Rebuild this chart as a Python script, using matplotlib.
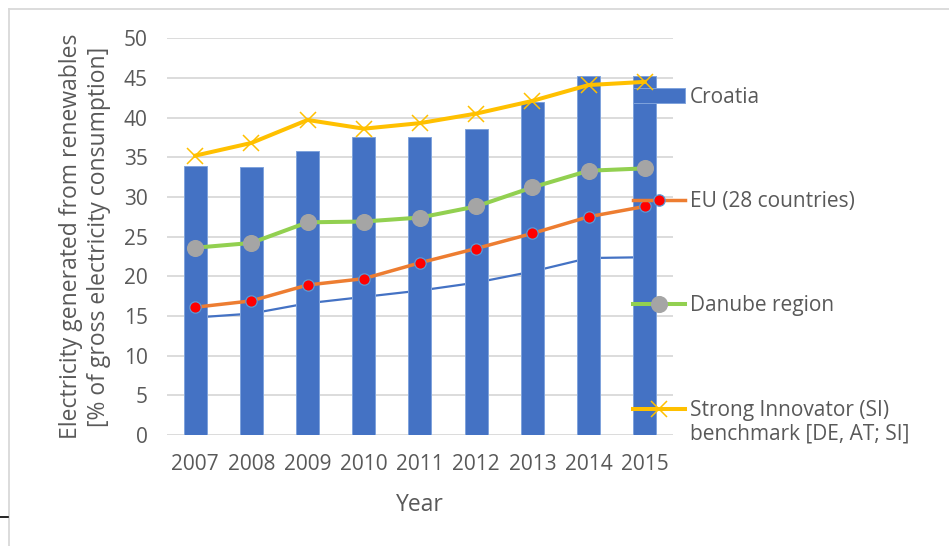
import matplotlib
matplotlib.use("Agg")
import matplotlib.pyplot as plt
import numpy as np
from matplotlib.legend_handler import HandlerLine2D
from matplotlib.lines import Line2D

years = ["2007", "2008", "2009", "2010", "2011", "2012", "2013", "2014", "2015"]
croatia = [33.9, 33.8, 35.8, 37.5, 37.5, 38.6, 42.0, 45.2, 45.3]
croatia_line = [14.8, 15.3, 16.6, 17.4, 18.2, 19.2, 20.6, 22.3, 22.4]
eu28 = [16.1, 16.9, 18.9, 19.7, 21.7, 23.5, 25.4, 27.5, 28.8]
danube = [23.6, 24.2, 26.8, 26.9, 27.4, 28.8, 31.2, 33.3, 33.6]
strong_innovator = [35.2, 36.8, 39.7, 38.6, 39.3, 40.5, 42.1, 44.1, 44.5]

yticks = [0, 5, 10, 15, 20, 25, 30, 35, 40, 45, 50]

TEXT = "#595959"
GRID = "#d9d9d9"
BLUE = "#4472C4"
ORANGE = "#ED7D31"
GREEN = "#92D050"
GOLD = "#FFC000"
GREY = "#A5A5A5"
FS = 15
FS_LABEL = 16.5

plt.rcParams["font.family"] = ["Open Sans", "DejaVu Sans"]
plt.rcParams["text.color"] = TEXT


class FirstLineHandler(HandlerLine2D):
    """Line handle aligned with the first line of a two-line label."""

    def create_artists(self, legend, orig_handle, xdescent, ydescent,
                       width, height, fontsize, trans):
        artists = super().create_artists(legend, orig_handle, xdescent,
                                         ydescent, width, height, fontsize,
                                         trans)
        for a in artists:
            a.set_ydata(np.asarray(a.get_ydata()) + 0.68 * fontsize)
        return artists


fig = plt.figure(figsize=(9.49, 5.46), dpi=100)
ax = fig.add_axes([0.176, 0.2033, 0.533, 0.7267])

# chart-area frame (left and top edges) and a small mark at the left margin
W, H = 949.0, 546.0
fig.add_artist(Line2D([8.5 / W, 8.5 / W], [0, 1 - 9 / H], color=GRID, lw=1.3,
                      transform=fig.transFigure))
fig.add_artist(Line2D([8.5 / W, 1], [1 - 9 / H, 1 - 9 / H], color=GRID, lw=1.3,
                      transform=fig.transFigure))
fig.add_artist(Line2D([0, 7.5 / W], [1 - 517 / H, 1 - 517 / H], color="black",
                      lw=1.2, transform=fig.transFigure))

x = np.arange(len(years))

ax.plot(x, croatia_line, color=BLUE, lw=1.6, zorder=2)
h_bar = ax.bar(x, croatia, width=0.41, color=BLUE, edgecolor="#7FA3DC",
               linewidth=0.7, zorder=3, label="Croatia")
h_eu, = ax.plot(x, eu28, color=ORANGE, lw=2.5, marker="o", ms=8.2,
                mfc="#FF0000", mec="#5B9BD5", mew=0.9, zorder=5,
                label="EU (28 countries)")
h_dan, = ax.plot(x, danube, color=GREEN, lw=2.9, marker="o", ms=11.3,
                 mfc=GREY, mec=GREY, zorder=4, label="Danube region")
h_si, = ax.plot(x, strong_innovator, color=GOLD, lw=2.9, marker="x", ms=11,
                mew=1.1, mec=GOLD, zorder=6,
                label="Strong Innovator (SI)\nbenchmark [DE, AT; SI]")

ax.set_xlim(-0.5, len(years) - 0.5)
ax.set_ylim(0, 50)
ax.set_yticks(yticks)
ax.set_xticks(x)
ax.set_xticklabels(years)
ax.yaxis.grid(True, color=GRID, lw=1.3, zorder=0)
ax.set_axisbelow(True)
for s in ax.spines.values():
    s.set_visible(False)
ax.tick_params(axis="both", length=0, labelsize=FS, labelcolor=TEXT)
ax.tick_params(axis="x", pad=14)
ax.tick_params(axis="y", pad=14)

ax.set_xlabel("Year", fontsize=FS_LABEL, color=TEXT, labelpad=13)
ax.set_ylabel("Electricity generated from renewables\n[% of gross electricity consumption]",
              fontsize=FS_LABEL, color=TEXT, labelpad=9, linespacing=1.22)

handles = [h_bar, h_eu, h_dan, h_si]
leg = ax.legend(handles=handles, labels=[h.get_label() for h in handles],
                handler_map={h_si: FirstLineHandler()},
                loc="upper left", bbox_to_anchor=(0.921, 0.878),
                frameon=False, fontsize=FS, handlelength=2.5,
                handletextpad=0.24, labelspacing=4.0, labelcolor=TEXT,
                borderaxespad=0, borderpad=0)

fig.savefig("out.png", dpi=100, facecolor="white")
